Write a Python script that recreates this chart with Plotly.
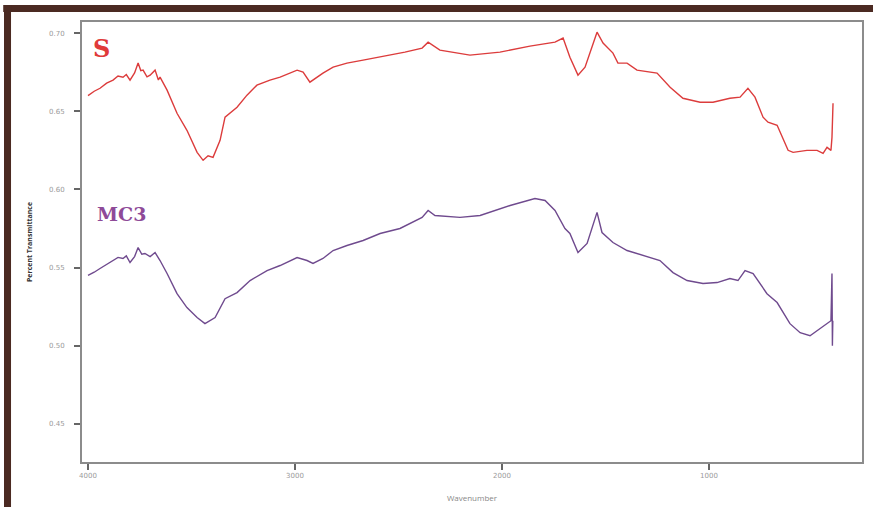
import plotly.graph_objects as go

# FTIR spectra: wavenumber (cm-1) vs transmittance
wn_s = [4000, 3970, 3942, 3910, 3879, 3855, 3831, 3815, 3797, 3775, 3758, 3745,
        3734, 3715, 3700, 3676, 3660, 3652, 3618, 3570, 3522, 3473, 3444, 3420,
        3396, 3362, 3338, 3280, 3232, 3184, 3121, 3072, 2990, 2961, 2928, 2894,
        2865, 2816, 2749, 2671, 2589, 2469, 2386, 2357, 2300, 2155, 2010, 1865,
        1744, 1705, 1672, 1633, 1599, 1541, 1512, 1464, 1440, 1396, 1348, 1251,
        1188, 1126, 1043, 981, 899, 850, 812, 778, 739, 715, 671, 618, 594, 527,
        478, 449, 430, 411, 406, 401]
t_s = [0.660, 0.6628, 0.6647, 0.6680, 0.6699, 0.6725, 0.6718, 0.6735, 0.6699,
       0.6745, 0.6808, 0.6760, 0.6763, 0.6720, 0.6731, 0.6763, 0.6700, 0.6718,
       0.6635, 0.6487, 0.6378, 0.6237, 0.6186, 0.6215, 0.6205, 0.6314, 0.6462,
       0.6526, 0.6603, 0.6667, 0.6699, 0.6718, 0.6763, 0.6750, 0.6686, 0.6718,
       0.6744, 0.6782, 0.6808, 0.6827, 0.6846, 0.6878, 0.6904, 0.6942, 0.6891,
       0.6859, 0.6878, 0.6917, 0.6942, 0.6968, 0.6846, 0.6731, 0.6782, 0.7006,
       0.6936, 0.6872, 0.6808, 0.6808, 0.6763, 0.6744, 0.6654, 0.6583, 0.6558,
       0.6558, 0.6583, 0.6590, 0.6647, 0.6590, 0.6462, 0.6430, 0.6410, 0.6250,
       0.6237, 0.6250, 0.6250, 0.6231, 0.6269, 0.6250, 0.6333, 0.6551]

wn_mc3 = [4000, 3970, 3942, 3910, 3879, 3855, 3831, 3815, 3797, 3775, 3758, 3740,
          3725, 3700, 3676, 3652, 3618, 3570, 3522, 3473, 3435, 3386, 3338, 3280,
          3217, 3135, 3072, 2990, 2942, 2913, 2865, 2816, 2749, 2671, 2589, 2493,
          2386, 2357, 2324, 2203, 2106, 1961, 1841, 1792, 1744, 1696, 1672, 1633,
          1589, 1541, 1517, 1464, 1396, 1319, 1237, 1174, 1106, 1029, 961, 899,
          860, 826, 787, 720, 671, 609, 560, 512, 464, 425, 411, 406, 404, 402]
t_mc3 = [0.5450, 0.5470, 0.5494, 0.5520, 0.5545, 0.5565, 0.5558, 0.5575, 0.5532,
         0.5570, 0.5628, 0.5585, 0.5590, 0.5570, 0.5596, 0.5545, 0.5462, 0.5333,
         0.5244, 0.5180, 0.5141, 0.5180, 0.5301, 0.5340, 0.5417, 0.5481, 0.5513,
         0.5564, 0.5545, 0.5526, 0.5558, 0.5609, 0.5641, 0.5673, 0.5718, 0.5750,
         0.5821, 0.5865, 0.5833, 0.5821, 0.5833, 0.5897, 0.5942, 0.5929, 0.5865,
         0.5750, 0.5718, 0.5596, 0.5654, 0.5853, 0.5724, 0.5660, 0.5609, 0.5577,
         0.5545, 0.5468, 0.5417, 0.5398, 0.5404, 0.5430, 0.5417, 0.5481, 0.5462,
         0.5333, 0.5276, 0.5141, 0.5083, 0.5064, 0.5109, 0.5141, 0.5160, 0.5462,
         0.5000, 0.5160]

x_ticks = [4000, 3000, 2000, 1000]
y_ticks = [0.70, 0.65, 0.60, 0.55, 0.50, 0.45]
y_labels = ["0.70", "0.65", "0.60", "0.55", "0.50", "0.45"]

fig = go.Figure()
fig.add_trace(go.Scatter(x=wn_s, y=t_s, mode="lines",
                         line=dict(color="#dc3c3c", width=1.4), name="S"))
fig.add_trace(go.Scatter(x=wn_mc3, y=t_mc3, mode="lines",
                         line=dict(color="#6f4a8e", width=1.4), name="MC3"))

fig.add_annotation(x=3937, y=0.6904, text="<b>S</b>", showarrow=False,
                   font=dict(family="DejaVu Serif", size=24, color="#e03a3a"))
fig.add_annotation(x=3836, y=0.584, text="<b>MC3</b>", showarrow=False,
                   font=dict(family="DejaVu Serif", size=19, color="#8e4a98"))

# dark frame bands along the top and left edges of the page
band = "#4b2a22"
fig.add_shape(type="rect", xref="paper", yref="paper", x0=-0.101, x1=1.02,
              y0=1.0227, y1=1.0386, fillcolor=band, line_width=0, layer="above")
fig.add_shape(type="rect", xref="paper", yref="paper", x0=-0.1, x1=-0.091,
              y0=-0.11, y1=1.0386, fillcolor=band, line_width=0, layer="above")

axis_common = dict(showgrid=False, zeroline=False, showline=True, mirror=True,
                   linecolor="#8c8c8c", linewidth=2, ticks="outside",
                   ticklen=6, tickcolor="#666", tickwidth=1.5, automargin=False,
                   tickfont=dict(size=7, color="#9a9a9a", family="DejaVu Sans"))

fig.update_xaxes(range=[4029, 261], tickvals=x_ticks,
                 ticktext=[str(v) for v in x_ticks],
                 title=dict(text="Wavenumber", standoff=16,
                            font=dict(size=8, color="#888")),
                 **axis_common)
fig.update_yaxes(range=[0.4256, 0.7071], tickvals=y_ticks, ticktext=y_labels,
                 ticklabelstandoff=8,
                 title=dict(text="<b>Percent Transmittance</b>", standoff=16,
                            font=dict(size=7, color="#333")),
                 **axis_common)

fig.update_layout(width=873, height=507, showlegend=False,
                  margin=dict(l=82, r=11, t=22, b=45),
                  paper_bgcolor="white", plot_bgcolor="white")

fig.write_html("out.html")
